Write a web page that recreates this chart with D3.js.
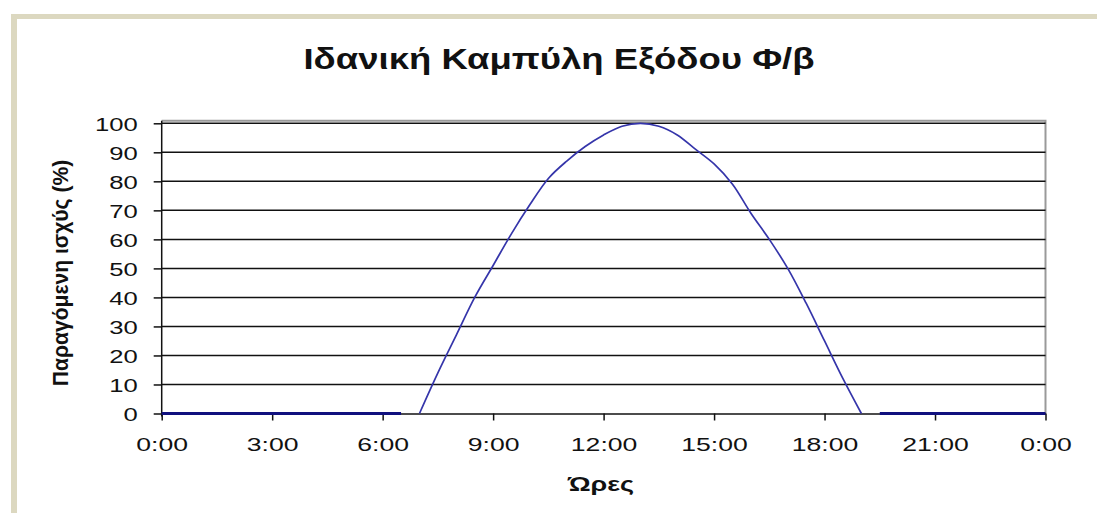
<!DOCTYPE html>
<html>
<head>
<meta charset="utf-8">
<script src="https://cdn.jsdelivr.net/npm/d3@7"></script>
<style>
  html, body { margin: 0; padding: 0; background: #fff; }
  svg { display: block; }
  text { font-family: "Liberation Sans", Arial, sans-serif; fill: #111; }
</style>
</head>
<body>
<svg id="chart" width="1097" height="513"></svg>
<script>
// Ideal daily output curve of a PV installation (percent of peak power)
const chartTitle = "Ιδανική Καμπύλη Εξόδου Φ/β";
const yAxisTitle = "Παραγόμενη ισχύς (%)";
const xAxisTitle = "Ώρες";

// Daylight production, half-hourly from 7:00 to 19:00
const dayHours  = [7, 7.5, 8, 8.5, 9, 9.5, 10, 10.5, 11, 11.5, 12, 12.5, 13,
                   13.5, 14, 14.5, 15, 15.5, 16, 16.5, 17, 17.5, 18, 18.5, 19];
const dayOutput = [0, 14, 27, 40, 51, 62, 72, 81, 87, 92, 96, 99, 100,
                   99, 96, 91, 86, 79, 69, 60, 50, 38, 25, 12, 0];

// Night-time (zero output) stretches
const morningHours  = [0, 0.5, 1, 1.5, 2, 2.5, 3, 3.5, 4, 4.5, 5, 5.5, 6, 6.5];
const morningOutput = [0, 0, 0, 0, 0, 0, 0, 0, 0, 0, 0, 0, 0, 0];
const eveningHours  = [19.5, 20, 20.5, 21, 21.5, 22, 22.5, 23, 23.5, 24];
const eveningOutput = [0, 0, 0, 0, 0, 0, 0, 0, 0, 0];

// Axis ticks
const xTickHours  = [0, 3, 6, 9, 12, 15, 18, 21, 24];
const xTickLabels = ["0:00", "3:00", "6:00", "9:00", "12:00", "15:00", "18:00", "21:00", "0:00"];
const yTicks      = [0, 10, 20, 30, 40, 50, 60, 70, 80, 90, 100];

const svg = d3.select("#chart");
const W = 1097, H = 513;

// Beige page frame
svg.append("rect").attr("x", 11).attr("y", 14).attr("width", W - 11).attr("height", 5).attr("fill", "#dcd8c0");
svg.append("rect").attr("x", 11).attr("y", 14).attr("width", 6).attr("height", H - 14).attr("fill", "#dcd8c0");

const plot = { left: 161.7, right: 1045.5, top: 123.3, bottom: 413.5 };

const x = d3.scaleLinear().domain([0, 24]).range([plot.left, plot.right]);
const y = d3.scaleLinear().domain([0, 100]).range([plot.bottom, plot.top]);

// Plot-area border (top and right)
svg.append("path")
  .attr("d", `M${plot.left},${plot.top - 2.5}H${plot.right}V${plot.bottom}`)
  .attr("fill", "none").attr("stroke", "#9a9a9a").attr("stroke-width", 2);

// Horizontal gridlines
svg.append("g")
  .selectAll("line")
  .data(yTicks.filter(d => d > 0))
  .join("line")
  .attr("x1", plot.left).attr("x2", plot.right)
  .attr("y1", d => y(d)).attr("y2", d => y(d))
  .attr("stroke", "#111").attr("stroke-width", 1.5);

// Y axis
const yAxis = svg.append("g")
  .attr("transform", `translate(${plot.left},0)`)
  .call(d3.axisLeft(y).tickValues(yTicks).tickSize(8).tickPadding(16).tickSizeOuter(0));
yAxis.select(".domain").attr("stroke", "#111").attr("stroke-width", 1.5)
  .attr("d", `M0,${plot.top - 2.5}V${plot.bottom + 3}`);
yAxis.selectAll(".tick line").attr("stroke", "#111").attr("stroke-width", 1.5);
yAxis.selectAll(".tick text")
  .attr("font-size", 19).attr("fill", "#111")
  .attr("x", 0).attr("dy", "0.36em")
  .attr("transform", "translate(-24,0) scale(1.35,1)");

// X axis
const xAxis = svg.append("g")
  .attr("transform", `translate(0,${plot.bottom})`)
  .call(d3.axisBottom(x).tickValues(xTickHours)
    .tickFormat((d, i) => xTickLabels[i]).tickSize(7).tickPadding(10).tickSizeOuter(0));
xAxis.select(".domain").attr("stroke", "#111").attr("stroke-width", 1.5);
xAxis.selectAll(".tick line").attr("stroke", "#111").attr("stroke-width", 1.5);
xAxis.selectAll(".tick text")
  .attr("font-size", 19).attr("fill", "#111")
  .attr("y", 0).attr("dy", 0)
  .attr("transform", "translate(0,37) scale(1.4,1)");

// Series
const line = d3.line()
  .x(d => x(d[0]))
  .y(d => y(d[1]));

const nightStyle = sel => sel.attr("fill", "none").attr("stroke", "#10107e").attr("stroke-width", 3);
svg.append("path")
  .datum(d3.zip(morningHours, morningOutput))
  .attr("d", line.curve(d3.curveLinear))
  .call(nightStyle);
svg.append("path")
  .datum(d3.zip(eveningHours, eveningOutput))
  .attr("d", line.curve(d3.curveLinear))
  .call(nightStyle);

svg.append("path")
  .datum(d3.zip(dayHours, dayOutput))
  .attr("d", line.curve(d3.curveCatmullRom))
  .attr("fill", "none").attr("stroke", "#3535aa").attr("stroke-width", 1.7);

// Titles
svg.append("text")
  .attr("text-anchor", "middle").attr("font-weight", "bold").attr("font-size", 29)
  .attr("transform", "translate(559,69) scale(1.26,1)")
  .text(chartTitle);

svg.append("text")
  .attr("text-anchor", "middle").attr("font-weight", "bold").attr("font-size", 20)
  .attr("transform", "translate(601,491) scale(1.35,1)")
  .text(xAxisTitle);

svg.append("text")
  .attr("text-anchor", "middle").attr("font-weight", "bold").attr("font-size", 19)
  .attr("transform", "translate(68,273) rotate(-90) scale(1.11,1.2)")
  .text(yAxisTitle);
</script>
</body>
</html>
